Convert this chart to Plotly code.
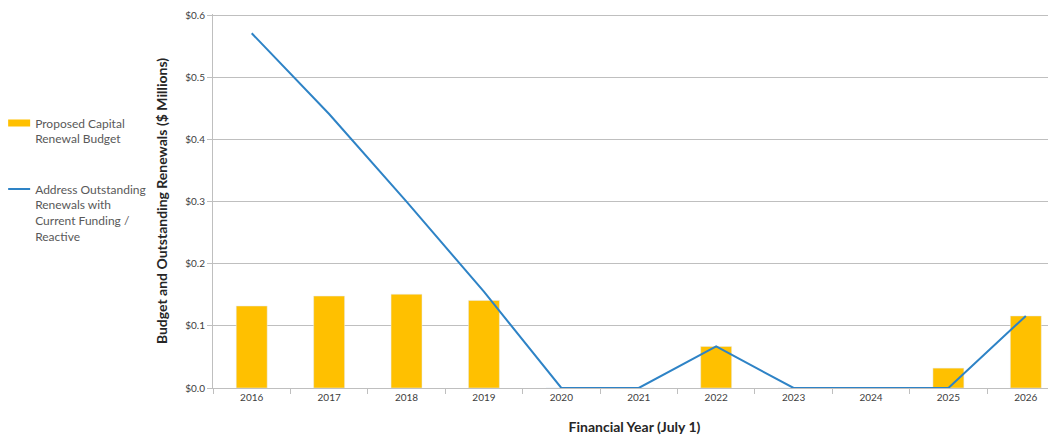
import plotly.graph_objects as go

years = ["2016", "2017", "2018", "2019", "2020", "2021", "2022", "2023", "2024", "2025", "2026"]
budget = [0.132, 0.148, 0.151, 0.141, 0, 0, 0.067, 0, 0, 0.032, 0.116]
outstanding = [0.571, 0.441, 0.300, 0.155, 0, 0, 0.067, 0, 0, 0, 0.116]
y_ticks = [0, 0.1, 0.2, 0.3, 0.4, 0.5, 0.6]
y_labels = ["$0.0", "$0.1", "$0.2", "$0.3", "$0.4", "$0.5", "$0.6"]

budget_name = "Proposed Capital<br>Renewal Budget"
outstanding_name = "Address Outstanding<br>Renewals with<br>Current Funding /<br>Reactive"

fig = go.Figure()
fig.add_trace(go.Bar(
    x=years, y=budget, name=budget_name,
    marker=dict(color="#FFC000"), width=0.4, showlegend=False,
))
# legend entry for the bars, drawn as a wide flat swatch like the original
fig.add_trace(go.Scatter(
    x=[None], y=[None], mode="lines", name=budget_name,
    line=dict(color="#FFC000", width=7), legendgroup="a",
))
fig.add_trace(go.Scatter(
    x=years, y=outstanding, mode="lines", name=outstanding_name,
    line=dict(color="#2E83C6", width=2), legendgroup="b",
))

fig.update_layout(
    width=1048, height=431,
    margin=dict(l=205, r=0, t=6, b=51),
    paper_bgcolor="white", plot_bgcolor="white",
    font=dict(family="Lato, Carlito, sans-serif", size=11, color="#404040"),
    showlegend=True,
    legend=dict(x=-0.243, xanchor="left", y=0.747, yanchor="top",
                font=dict(size=12, color="#595959"), tracegroupgap=32,
                bgcolor="rgba(0,0,0,0)", itemwidth=30, valign="top",
                indentation=-13),
    xaxis=dict(
        type="category", range=[-0.5, 10.39],
        title=dict(text="<b>Financial Year (July 1)</b>",
                   font=dict(size=14, color="#262626"), standoff=20),
        showline=True, linecolor="#BFBFBF", linewidth=1,
        ticks="outside", tickson="boundaries", ticklen=5, tickcolor="#BFBFBF",
        tickfont=dict(size=10, color="#404040"), showgrid=False,
    ),
    yaxis=dict(
        range=[0, 0.602], tickvals=y_ticks, ticktext=y_labels,
        title=dict(text="<b>Budget and Outstanding Renewals ($ Millions)</b>",
                   font=dict(size=14, color="#262626"), standoff=14),
        showline=True, linecolor="#BFBFBF", linewidth=1,
        ticks="outside", ticklen=5, tickcolor="#BFBFBF",
        gridcolor="#BFBFBF", gridwidth=1, ticklabeloverflow="allow",
        tickfont=dict(size=10, color="#404040"), zeroline=False,
    ),
    bargap=0.6,
)

fig.write_html("out.html")
